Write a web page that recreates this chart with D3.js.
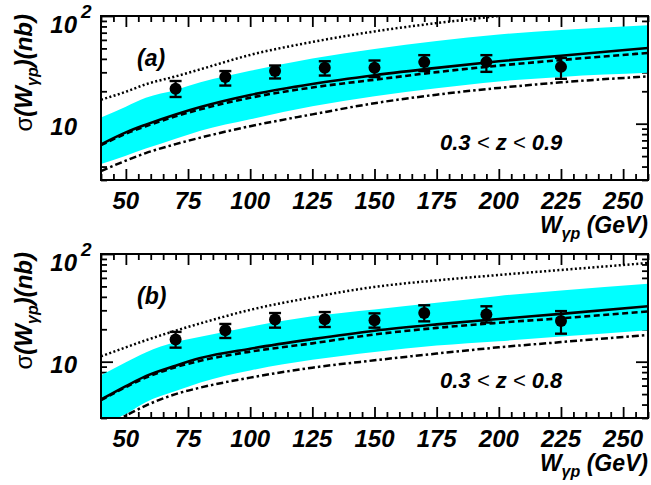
<!DOCTYPE html>
<html>
<head>
<meta charset="utf-8">
<script src="https://cdn.jsdelivr.net/npm/d3@7"></script>
<style>
  html, body { margin: 0; padding: 0; background: #ffffff; }
  svg { display: block; font-family: "Liberation Sans", Arial, Helvetica, sans-serif; }
</style>
</head>
<body>
<svg id="chart" width="651" height="485"></svg>
<script>
// ---- theory curves, sampled on a common W grid (GeV) ----
const gridW = [40, 50, 58, 70, 80, 100, 125, 150, 175, 200, 225, 260];

// panel (a): 0.3 < z < 0.9
const solidA   = [6.43, 8.31, 9.8, 12.2, 14.3, 18.5, 23.4, 28.2, 33.0, 38.0, 42.8, 50.5];
const dashedA  = [6.32, 8.08, 9.48, 11.7, 13.6, 17.4, 21.7, 25.6, 30.1, 34.6, 39.0, 45.4];
const dottedA  = [16.7, 19.8, 23.2, 27.5, 32.0, 43.5, 57.4, 71.9, 86.0, 100, 115, 138];
const dashDotA = [3.63, 4.54, 5.33, 6.46, 7.42, 9.48, 12.2, 15.5, 18.6, 21.5, 24.2, 27.5];
const bandHiA  = [11.4, 14.4, 17.4, 20.6, 24.2, 31.0, 40.4, 49.5, 58.7, 67.4, 74.2, 82.0];
const bandLoA  = [4.22, 5.05, 5.87, 7.26, 8.61, 11.0, 14.5, 18.0, 21.3, 24.7, 27.2, 29.7];

// panel (b): 0.3 < z < 0.8
const solidB   = [4.45, 5.93, 7.34, 9.18, 10.8, 13.2, 16.2, 19.4, 22.2, 24.9, 27.8, 32.7];
const dashedB  = [4.40, 5.81, 7.11, 8.89, 10.2, 12.4, 14.8, 17.9, 20.6, 23.0, 25.3, 29.3];
const dottedB  = [11.2, 13.6, 15.8, 19.4, 22.7, 30.3, 39.6, 49.5, 56.9, 63.9, 71.1, 82.5];
const dashDotB = [2.42, 3.16, 3.91, 5.0, 5.75, 7.11, 8.80, 10.3, 11.9, 13.6, 15.2, 17.7];
const bandHiB  = [7.50, 9.90, 12.2, 15.2, 17.0, 21.1, 26.4, 30.6, 35.2, 40.8, 45.9, 53.0];
const bandLoB  = [2.58, 3.27, 4.2, 5.33, 6.42, 8.29, 10.4, 12.3, 14.1, 15.5, 17.1, 19.6];

// ---- measured cross sections (nb) ----
const dataW   = [70, 90, 110, 130, 150, 170, 195, 225];
const sigmaA  = [21.1, 27.1, 30.8, 33.0, 33.0, 37.3, 37.3, 33.7];
const errHiA  = [24.9, 30.8, 34.7, 38.0, 38.6, 43.3, 43.3, 40.8];
const errLoA  = [17.7, 22.6, 26.3, 28.0, 27.1, 30.8, 30.3, 26.1];
const sigmaB  = [16.1, 19.6, 24.6, 24.8, 24.2, 28.3, 27.5, 23.9];
const errHiB  = [18.9, 22.4, 28.3, 28.9, 28.1, 33.4, 32.7, 29.5];
const errLoB  = [13.5, 16.6, 20.7, 21.0, 20.7, 23.7, 23.1, 18.2];

// ---- axis ticks ----
const xMajor = [50, 75, 100, 125, 150, 175, 200, 225, 250];
const xMinor = d3.range(40, 261, 5).filter(v => !xMajor.includes(v));
const yMajor = [10, 100];
const yMinor = [3, 4, 5, 6, 7, 8, 9, 20, 30, 40, 50, 60, 70, 80, 90];
const yDomain = [3, 100];
const xDomain = [40, 260];

const svg = d3.select("#chart");
const left = 101, right = 648, plotH = 164;
const x = d3.scaleLinear().domain(xDomain).range([left, right]);

const panels = [
  { id: "a", top: 16, tag: "(a)", zText: ["0.3 ", "<", " z ", "<", " 0.9"],
    solid: solidA, dashed: dashedA, dotted: dottedA, dashDot: dashDotA,
    bandHi: bandHiA, bandLo: bandLoA, sigma: sigmaA, hi: errHiA, lo: errLoA },
  { id: "b", top: 254, tag: "(b)", zText: ["0.3 ", "<", " z ", "<", " 0.8"],
    solid: solidB, dashed: dashedB, dotted: dottedB, dashDot: dashDotB,
    bandHi: bandHiB, bandLo: bandLoB, sigma: sigmaB, hi: errHiB, lo: errLoB }
];

const labelFont = "23px";

panels.forEach(p => {
  const top = p.top, bottom = top + plotH;
  const y = d3.scaleLog().domain(yDomain).range([bottom, top]);
  const g = svg.append("g");

  const clipId = "clip-" + p.id;
  svg.append("clipPath").attr("id", clipId)
    .append("rect").attr("x", left).attr("y", top)
    .attr("width", right - left).attr("height", plotH);

  // ticks (inward)
  const tickStyle = sel => {
    sel.select(".domain").remove();
    sel.selectAll(".tick line").attr("stroke", "#000").attr("stroke-width", 1.8);
    sel.selectAll(".tick text").remove();
  };
  g.append("g").attr("transform", `translate(0,${bottom})`)
    .call(d3.axisBottom(x).tickValues(xMajor).tickSize(-11)).call(tickStyle);
  g.append("g").attr("transform", `translate(0,${bottom})`)
    .call(d3.axisBottom(x).tickValues(xMinor).tickSize(-6)).call(tickStyle);
  g.append("g").attr("transform", `translate(0,${top})`)
    .call(d3.axisTop(x).tickValues(xMajor).tickSize(-11)).call(tickStyle);
  g.append("g").attr("transform", `translate(0,${top})`)
    .call(d3.axisTop(x).tickValues(xMinor).tickSize(-6)).call(tickStyle);
  g.append("g").attr("transform", `translate(${left},0)`)
    .call(d3.axisLeft(y).tickValues(yMajor).tickSize(-12)).call(tickStyle);
  g.append("g").attr("transform", `translate(${left},0)`)
    .call(d3.axisLeft(y).tickValues(yMinor).tickSize(-6)).call(tickStyle);
  g.append("g").attr("transform", `translate(${right},0)`)
    .call(d3.axisRight(y).tickValues(yMajor).tickSize(-12)).call(tickStyle);
  g.append("g").attr("transform", `translate(${right},0)`)
    .call(d3.axisRight(y).tickValues(yMinor).tickSize(-6)).call(tickStyle);

  const plot = g.append("g").attr("clip-path", `url(#${clipId})`);

  // uncertainty band
  const bandRows = gridW.map((w, i) => ({ w, lo: p.bandLo[i], hi: p.bandHi[i] }));
  plot.append("path").datum(bandRows)
    .attr("fill", "#00ffff").attr("stroke", "none")
    .attr("d", d3.area().curve(d3.curveMonotoneX)
      .x(d => x(d.w)).y0(d => y(d.lo)).y1(d => y(d.hi)));

  // theory curves
  const line = d3.line().curve(d3.curveMonotoneX).x(d => x(d.w)).y(d => y(d.v));
  const curve = (vals, dash, width) => {
    plot.append("path").datum(gridW.map((w, i) => ({ w, v: vals[i] })))
      .attr("fill", "none").attr("stroke", "#000")
      .attr("stroke-width", width)
      .attr("stroke-dasharray", dash)
      .attr("d", line);
  };
  curve(p.dotted, "2,2.4", 2.5);
  curve(p.dashDot, "7,3,2.5,3", 2.5);
  curve(p.dashed, "6,3.5", 2.6);
  curve(p.solid, null, 2.6);

  // data points with error bars
  const pts = dataW.map((w, i) => ({ w, v: p.sigma[i], hi: p.hi[i], lo: p.lo[i] }));
  const pg = g.append("g");
  pg.selectAll("line.err").data(pts).join("line").attr("class", "err")
    .attr("x1", d => x(d.w)).attr("x2", d => x(d.w))
    .attr("y1", d => y(d.hi)).attr("y2", d => y(d.lo))
    .attr("stroke", "#000").attr("stroke-width", 2.2);
  pg.selectAll("line.capH").data(pts).join("line").attr("class", "capH")
    .attr("x1", d => x(d.w) - 6).attr("x2", d => x(d.w) + 6)
    .attr("y1", d => y(d.hi)).attr("y2", d => y(d.hi))
    .attr("stroke", "#000").attr("stroke-width", 2.4);
  pg.selectAll("line.capL").data(pts).join("line").attr("class", "capL")
    .attr("x1", d => x(d.w) - 6).attr("x2", d => x(d.w) + 6)
    .attr("y1", d => y(d.lo)).attr("y2", d => y(d.lo))
    .attr("stroke", "#000").attr("stroke-width", 2.4);
  pg.selectAll("circle").data(pts).join("circle")
    .attr("cx", d => x(d.w)).attr("cy", d => y(d.v)).attr("r", 6)
    .attr("fill", "#000");

  // frame
  g.append("rect").attr("x", left).attr("y", top)
    .attr("width", right - left).attr("height", plotH)
    .attr("fill", "none").attr("stroke", "#000").attr("stroke-width", 2);

  // x tick labels
  g.selectAll("text.xl").data(xMajor).join("text").attr("class", "xl")
    .attr("x", d => x(d)).attr("y", bottom + 29)
    .attr("text-anchor", "middle")
    .style("font-size", "24px").style("font-weight", "bold").style("font-style", "italic")
    .text(d => d);

  // y tick labels
  g.append("text").attr("x", 77).attr("y", y(10) + 11)
    .attr("text-anchor", "end")
    .style("font-size", "24px").style("font-weight", "bold").style("font-style", "italic")
    .text("10");
  g.append("text").attr("x", 77).attr("y", y(100) + 17)
    .attr("text-anchor", "end")
    .style("font-size", "24px").style("font-weight", "bold").style("font-style", "italic")
    .text("10");
  g.append("text").attr("x", 81).attr("y", y(100) + 2)
    .style("font-size", "19px").style("font-weight", "bold").style("font-style", "italic")
    .text("2");

  // panel tag
  g.append("text").attr("x", 137).attr("y", top + 50)
    .style("font-size", "23px").style("font-weight", "bold").style("font-style", "italic")
    .text(p.tag);

  // z range
  const zt = g.append("text").attr("x", 440).attr("y", top + 134)
    .style("font-size", "22px").style("font-style", "italic");
  p.zText.forEach(s => {
    zt.append("tspan").style("font-weight", s === "<" ? "normal" : "bold").text(s);
  });

  // x title
  const xt = g.append("text").attr("x", right).attr("y", bottom + 53)
    .attr("text-anchor", "end")
    .style("font-size", "23px").style("font-weight", "bold").style("font-style", "italic");
  xt.append("tspan").text("W");
  xt.append("tspan").attr("dy", 6).style("font-size", "16px").text("γp");
  xt.append("tspan").attr("dy", -6).text(" (GeV)");

  // y title
  const yt = g.append("text")
    .attr("transform", `translate(32,${top - 2}) rotate(-90)`)
    .attr("text-anchor", "end")
    .style("font-size", "24px").style("font-weight", "bold").style("font-style", "italic");
  yt.append("tspan").style("font-weight", "normal").style("font-style", "normal").text("σ");
  yt.append("tspan").text("(W");
  yt.append("tspan").attr("dy", 6).style("font-size", "16px").text("γp");
  yt.append("tspan").attr("dy", -6).text(")(nb)");
});
</script>
</body>
</html>
